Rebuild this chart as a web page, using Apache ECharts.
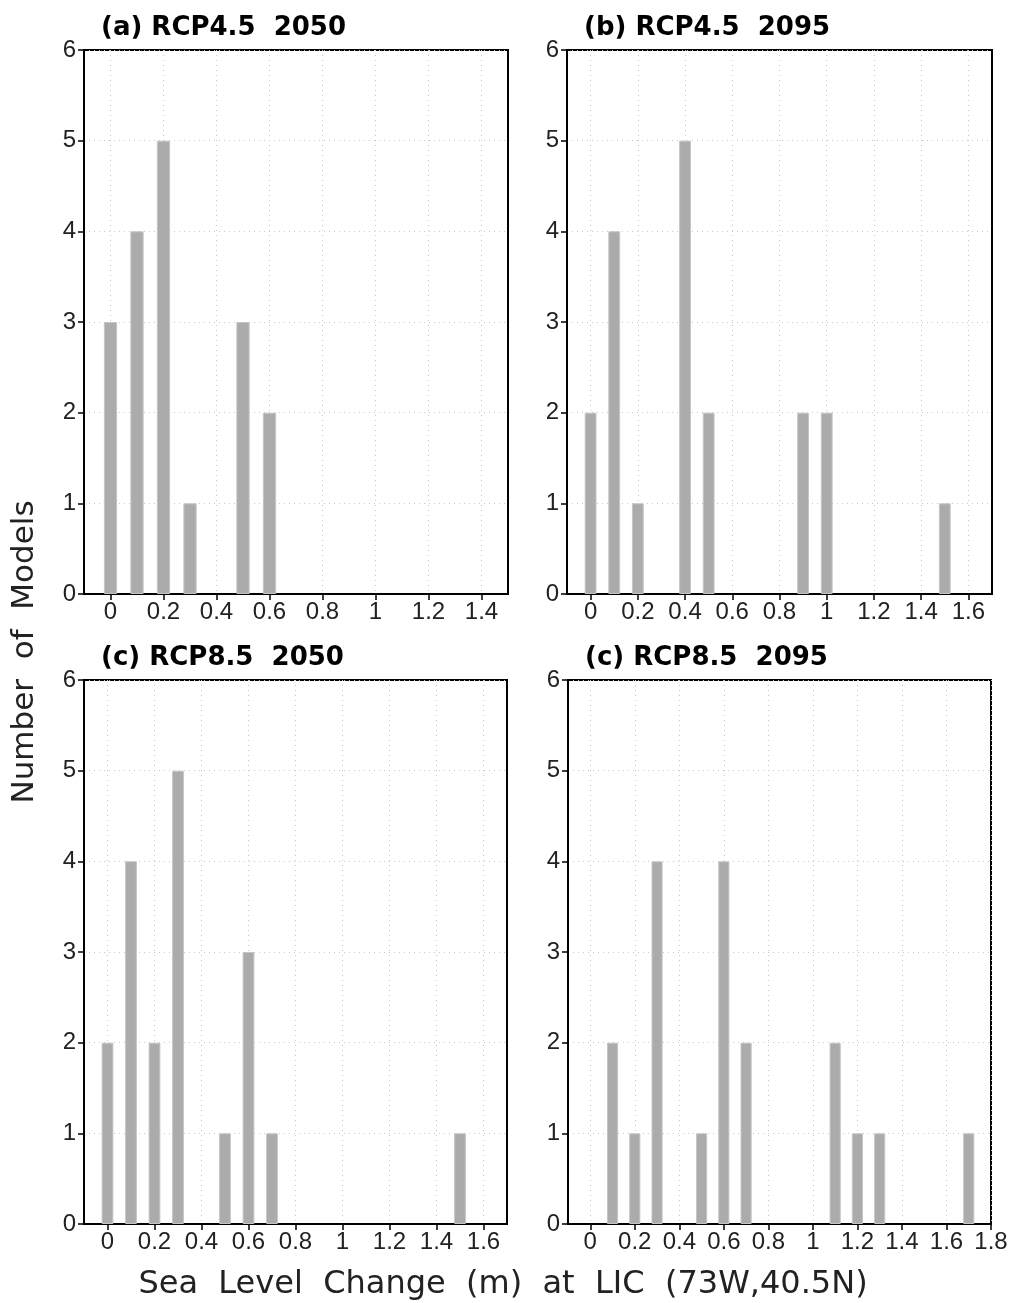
<!DOCTYPE html>
<html>
<head>
<meta charset="utf-8">
<script src="https://cdn.jsdelivr.net/npm/echarts@6/dist/echarts.min.js"></script>
<style>
  html, body { margin: 0; padding: 0; background: #fff; }
  #main { width: 1013px; height: 1303px; }
</style>
</head>
<body>
<div id="main"></div>
<script>
// sea level change bins (m) and number of models per bin
const binsA = [0, 0.1, 0.2, 0.3, 0.5, 0.6];
const countsA = [3, 4, 5, 1, 3, 2];
const binsB = [0, 0.1, 0.2, 0.4, 0.5, 0.9, 1.0, 1.5];
const countsB = [2, 4, 1, 5, 2, 2, 2, 1];
const binsC = [0, 0.1, 0.2, 0.3, 0.5, 0.6, 0.7, 1.5];
const countsC = [2, 4, 2, 5, 1, 3, 1, 1];
const binsD = [0.1, 0.2, 0.3, 0.5, 0.6, 0.7, 1.1, 1.2, 1.3, 1.7];
const countsD = [2, 1, 4, 1, 4, 2, 2, 1, 1, 1];

const panelTitles = ['(a) RCP4.5  2050', '(b) RCP4.5  2095', '(c) RCP8.5  2050', '(c) RCP8.5  2095'];
const xMax = [1.5, 1.7, 1.7, 1.8];
const xTickLabels = [
  [0, 0.2, 0.4, 0.6, 0.8, 1, 1.2, 1.4],
  [0, 0.2, 0.4, 0.6, 0.8, 1, 1.2, 1.4, 1.6],
  [0, 0.2, 0.4, 0.6, 0.8, 1, 1.2, 1.4, 1.6],
  [0, 0.2, 0.4, 0.6, 0.8, 1, 1.2, 1.4, 1.6, 1.8]
];

const allBins = [binsA, binsB, binsC, binsD];
const allCounts = [countsA, countsB, countsC, countsD];

const boxes = [
  { left: 84, top: 50, width: 424, height: 544 },
  { left: 567, top: 50, width: 425, height: 544 },
  { left: 84, top: 680, width: 423, height: 544 },
  { left: 568, top: 680, width: 423, height: 544 }
];

const labelFont = '"Liberation Sans", "DejaVu Sans"';
const dotted = { color: '#c8c8c8', width: 1, type: [1, 4] };

let grids = [], xAxes = [], yAxes = [], series = [], titles = [];

boxes.forEach((b, i) => {
  grids.push(Object.assign({ show: true, borderColor: '#000', borderWidth: 2, backgroundColor: 'transparent' }, b));
  xAxes.push({
    type: 'value', gridIndex: i, min: -0.1, max: xMax[i], interval: 0.1,
    axisLine: { show: true, onZero: false, lineStyle: { color: '#000', width: 2 } },
    axisTick: { show: true, length: 6, lineStyle: { color: '#000', width: 1.5 }, customValues: xTickLabels[i] },
    axisLabel: {
      show: true, customValues: xTickLabels[i], color: '#222', fontSize: 24, fontFamily: labelFont, margin: 6,
      formatter: v => String(+(+v).toFixed(1))
    },
    splitLine: { show: true, lineStyle: dotted }
  });
  yAxes.push({
    type: 'value', gridIndex: i, min: 0, max: 6, interval: 1,
    axisLine: { show: true, onZero: false, lineStyle: { color: '#000', width: 2 } },
    axisTick: { show: true, length: 6, lineStyle: { color: '#000', width: 1.5 } },
    axisLabel: { color: '#222', fontSize: 24, fontFamily: labelFont, margin: 8 },
    splitLine: { show: true, lineStyle: dotted }
  });
  series.push({
    type: 'bar', xAxisIndex: i, yAxisIndex: i,
    barWidth: '50%',
    itemStyle: { color: '#ababab', borderColor: '#c4c4c4', borderWidth: 1 },
    data: allBins[i].map((x, k) => [x, allCounts[i][k]]),
    silent: true
  });
  titles.push({
    text: panelTitles[i], left: b.left + 12, top: b.top - 40,
    textStyle: { fontFamily: 'DejaVu Sans', fontWeight: 'bold', fontSize: 26, color: '#000' }
  });
});

let chart = echarts.init(document.getElementById('main'));
chart.setOption({
  animation: false,
  backgroundColor: '#fff',
  title: titles,
  grid: grids,
  xAxis: xAxes,
  yAxis: yAxes,
  series: series,
  graphic: [
    {
      type: 'text', x: 503, y: 1285,
      style: { text: 'Sea  Level  Change  (m)  at  LIC  (73W,40.5N)', fontFamily: 'DejaVu Sans', fontSize: 32, fill: '#222', align: 'center', verticalAlign: 'middle' }
    },
    {
      type: 'text', x: 25, y: 652, rotation: Math.PI / 2,
      style: { text: 'Number  of  Models', fontFamily: 'DejaVu Sans', fontSize: 31, fill: '#222', align: 'center', verticalAlign: 'middle' }
    }
  ]
});
window.addEventListener('resize', function () {
  chart.resize();
});
</script>
</body>
</html>
